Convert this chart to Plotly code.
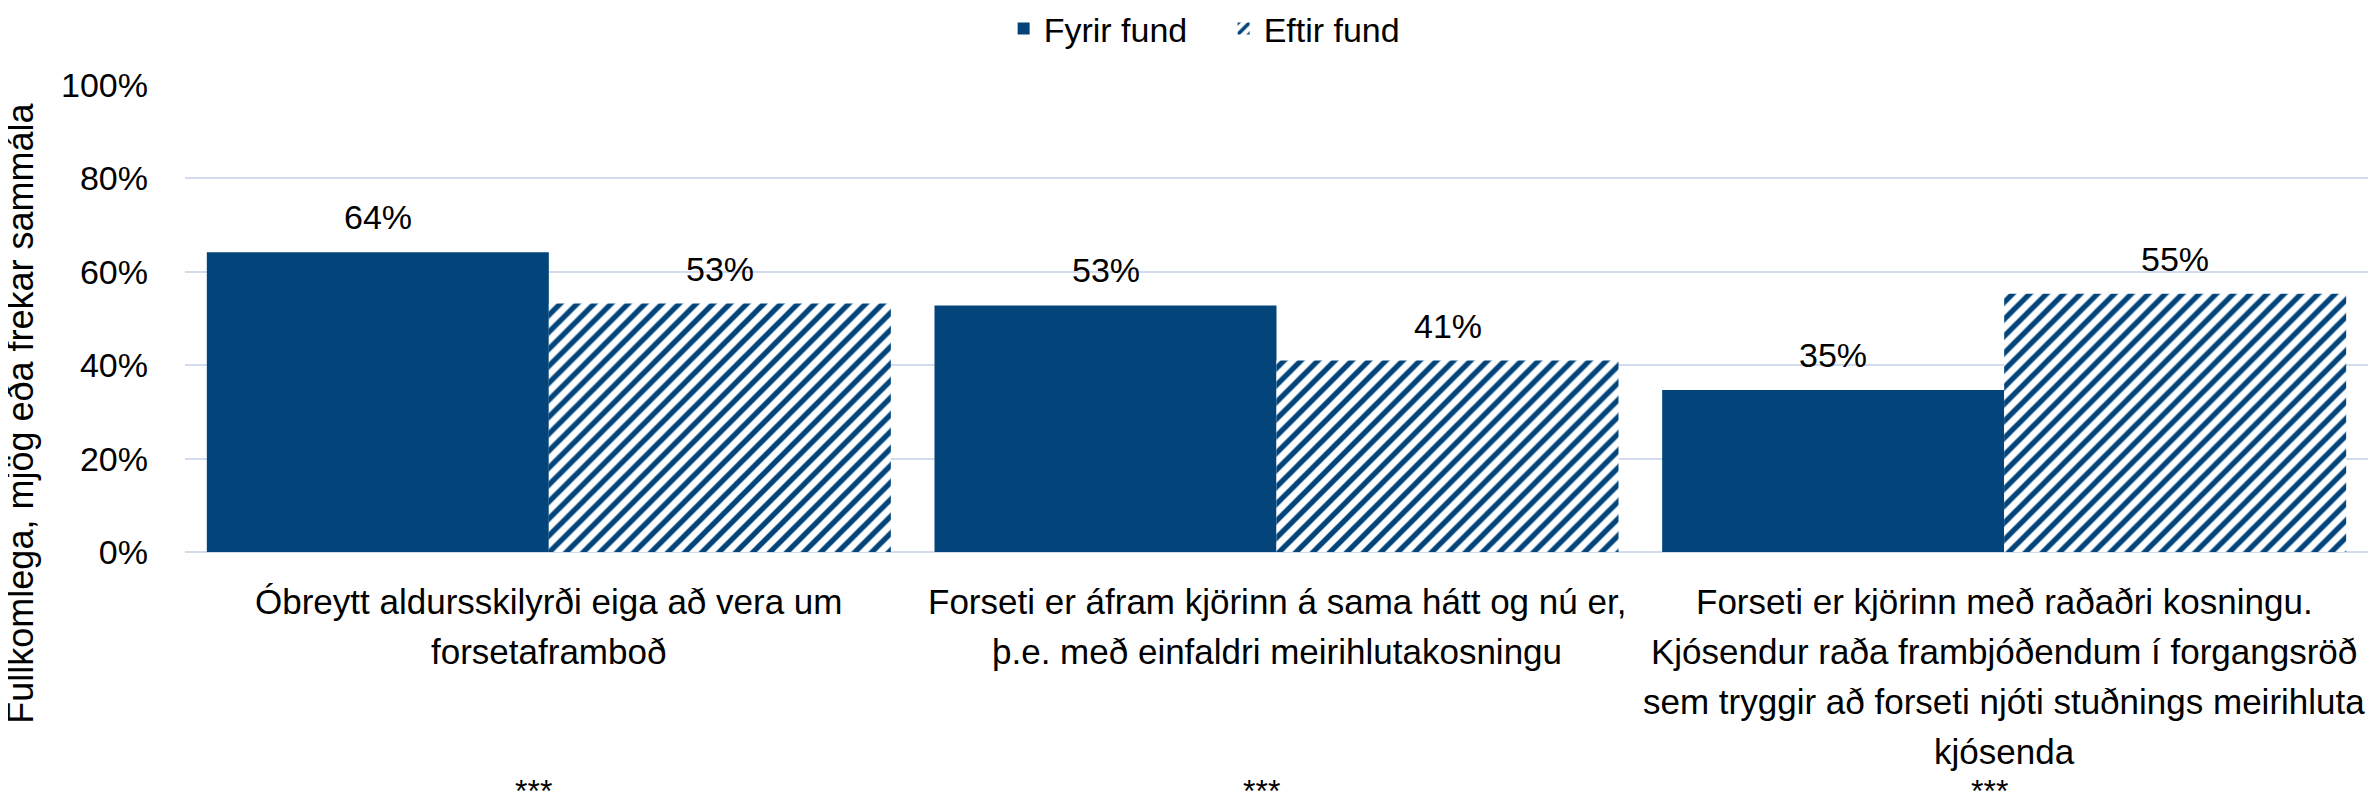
import plotly.graph_objects as go

cat_keys = ["c1", "c2", "c3"]
category_lines = [
    ["Óbreytt aldursskilyrði eiga að vera um", "forsetaframboð"],
    ["Forseti er áfram kjörinn á sama hátt og nú er,", "þ.e. með einfaldri meirihlutakosningu"],
    ["Forseti er kjörinn með raðaðri kosningu.",
     "Kjósendur raða frambjóðendum í forgangsröð",
     "sem tryggir að forseti njóti stuðnings meirihluta",
     "kjósenda"],
]
series_names = ["Fyrir fund", "Eftir fund"]
fyrir = [0.642, 0.528, 0.347]
eftir = [0.532, 0.41, 0.553]
signif = ["***", "***", "***"]
y_ticks = [0, 0.2, 0.4, 0.6, 0.8, 1.0]
y_title = "Fullkomlega, mjög eða frekar sammála"

FONT = "Liberation Sans, Arial, sans-serif"
DARK = "#03457B"
GRID = "#D3DCEF"

fig = go.Figure()
fig.add_trace(go.Bar(
    name=series_names[0], x=cat_keys, y=fyrir,
    marker=dict(color=DARK, line=dict(width=0)),
))
fig.add_trace(go.Bar(
    name=series_names[1], x=cat_keys, y=eftir,
    marker=dict(color="white", line=dict(width=0),
                pattern=dict(shape="/", fgcolor=DARK, bgcolor="white",
                             size=12, solidity=0.45, fillmode="replace")),
))

PLOT_H = 467.0
annotations = []
half = 171
for k, v in zip(cat_keys, fyrir):
    annotations.append(dict(x=k, y=v, xref="x", yref="y", text=f"{round(v*100)}%",
                            showarrow=False, yanchor="middle", xshift=-half, yshift=35,
                            font=dict(family=FONT, size=34, color="black")))
for k, v in zip(cat_keys, eftir):
    annotations.append(dict(x=k, y=v, xref="x", yref="y", text=f"{round(v*100)}%",
                            showarrow=False, yanchor="middle", xshift=half, yshift=35,
                            font=dict(family=FONT, size=34, color="black")))
# category labels, one annotation per line (first line 49px below axis, 50px spacing)
for k, lines in zip(cat_keys, category_lines):
    for i, line in enumerate(lines):
        annotations.append(dict(x=k, y=-(49 + 50 * i) / PLOT_H, xref="x", yref="paper",
                                text=line, showarrow=False, yanchor="middle",
                                font=dict(family=FONT, size=35, color="black")))
for k, s in zip(cat_keys, signif):
    annotations.append(dict(x=k, y=-239 / PLOT_H, xref="x", yref="paper", text=s,
                            showarrow=False, yanchor="middle", xshift=-15,
                            font=dict(family=FONT, size=32, color="black")))
annotations.append(dict(x=-0.0752, y=0.298, xref="paper", yref="paper", text=y_title,
                        textangle=-90, showarrow=False, xanchor="center", yanchor="middle",
                        font=dict(family=FONT, size=36, color="black")))

fig.update_layout(
    width=2360, height=784,
    margin=dict(l=177, r=0, t=77, b=240, autoexpand=False),
    paper_bgcolor="white", plot_bgcolor="white",
    barmode="group", bargap=0.06, bargroupgap=0,
    font=dict(family=FONT, size=34, color="black"),
    showlegend=True,
    legend=dict(orientation="h", x=0.375, xanchor="left", y=1.12, yanchor="middle",
                font=dict(family=FONT, size=34, color="black"),
                entrywidth=175, entrywidthmode="pixels",
                traceorder="normal", bgcolor="rgba(0,0,0,0)"),
    annotations=annotations,
)
fig.update_xaxes(
    tickvals=cat_keys, showticklabels=False, showgrid=False, showline=False,
    ticks="", zeroline=False, automargin=False,
)
fig.update_yaxes(
    range=[0, 1], tickvals=y_ticks, tickformat=".0%", showgrid=True,
    gridcolor=GRID, gridwidth=2, zeroline=True, zerolinecolor=GRID, zerolinewidth=2,
    showline=False, ticks="", automargin=False, ticklabelstandoff=36,
    tickfont=dict(family=FONT, size=34, color="black"),
)

fig.write_html("out.html")
